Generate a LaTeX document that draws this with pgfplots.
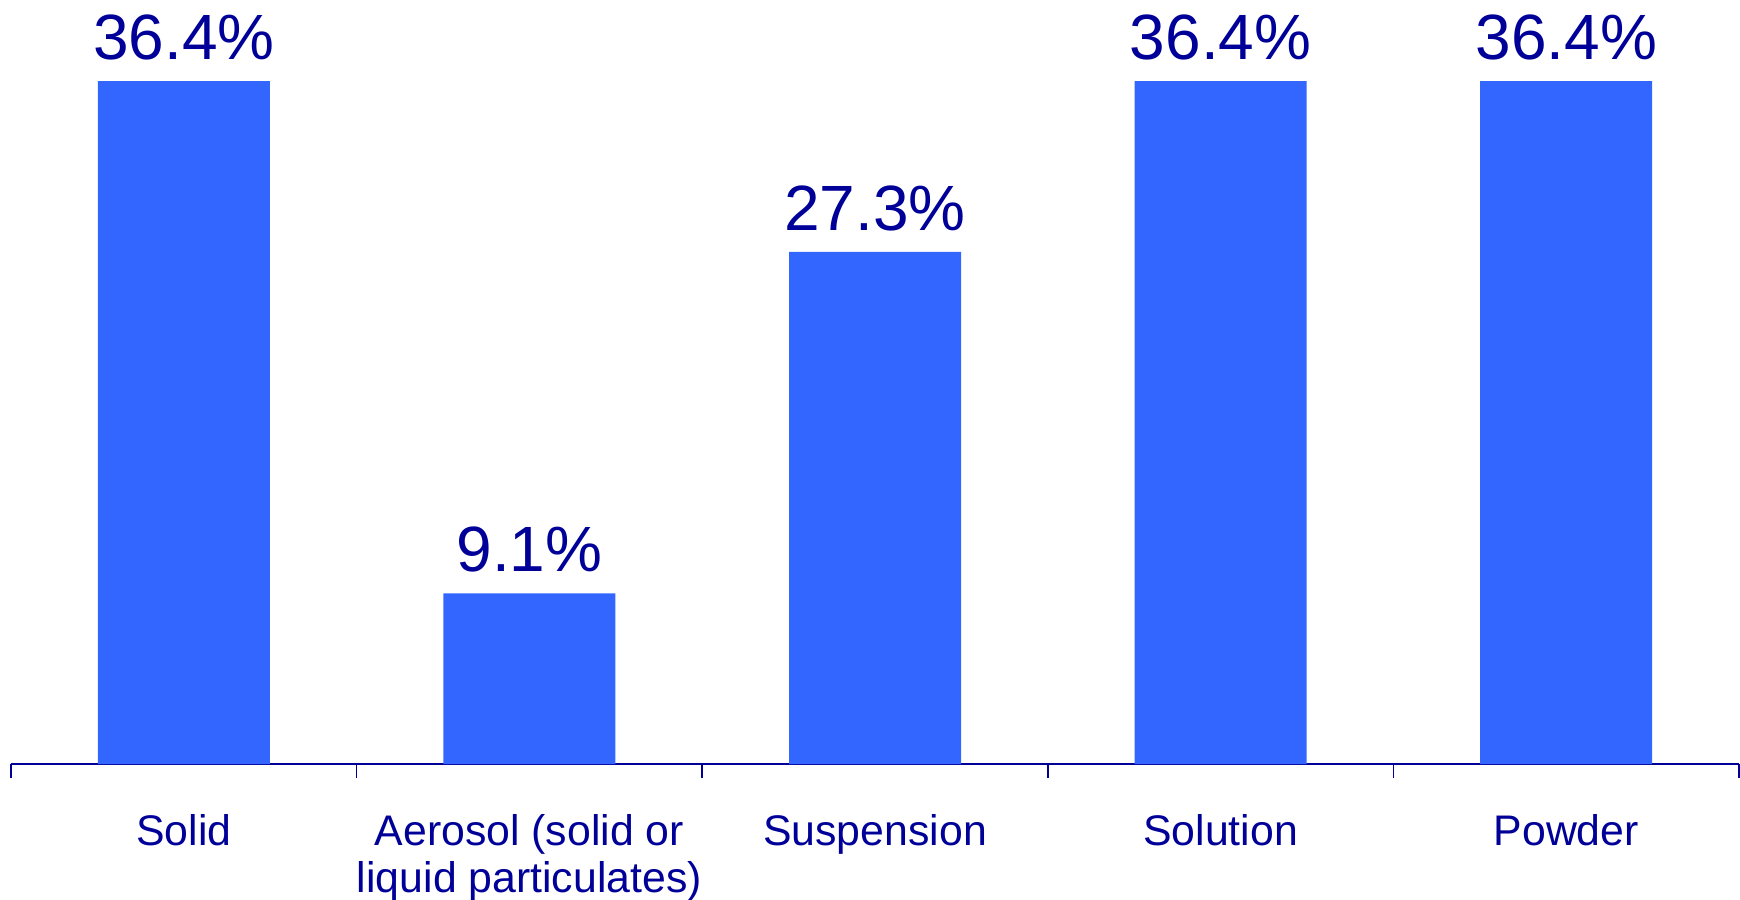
\documentclass[border=0pt]{standalone}
\usepackage{pgfplots}
\pgfplotsset{compat=1.18}
\usepackage{fontspec}
\setmainfont{Liberation Sans}
\definecolor{barblue}{HTML}{3366FF}
\definecolor{navy}{HTML}{000099}

\begin{document}
\begin{tikzpicture}
\useasboundingbox (0,0) rectangle (435pt,224.75pt);
\begin{axis}[
  at={(2.75pt,33.75pt)}, anchor=south west,
  width=432pt, height=191pt, scale only axis,
  ybar, bar width=43pt,
  xmin=-0.5, xmax=4.5, ymin=0, ymax=40.72,
  enlargelimits=false, clip=false,
  axis y line=none, axis x line*=bottom,
  x axis line style={draw=navy, line width=0.7pt},
  xtick={0,...,4}, major tick length=0pt,
  xticklabels={Solid, {Aerosol (solid or\\liquid particulates)}, Suspension, Solution, Powder},
  minor xtick={-0.5,0.5,...,4.5}, minor tick length=3.5pt, tick align=outside,
  minor tick style={draw=navy, line width=0.4pt},
  xticklabel style={font=\fontsize{10.7}{11.7}\selectfont, text=navy, align=center,
    anchor=north, inner sep=0pt, yshift=-12.5pt},
  /pgf/number format/assume math mode=true,
  nodes near coords={\pgfmathprintnumber[fixed,precision=1,fixed zerofill]{\pgfplotspointmeta}\%},
  nodes near coords style={font=\fontsize{16}{18}\selectfont, text=navy,
    anchor=south, inner sep=0pt, yshift=5pt},
]
\addplot[fill=barblue, draw=none] coordinates {(0,36.4) (1,9.1) (2,27.3) (3,36.4) (4,36.4)};
\end{axis}
\end{tikzpicture}
\end{document}
